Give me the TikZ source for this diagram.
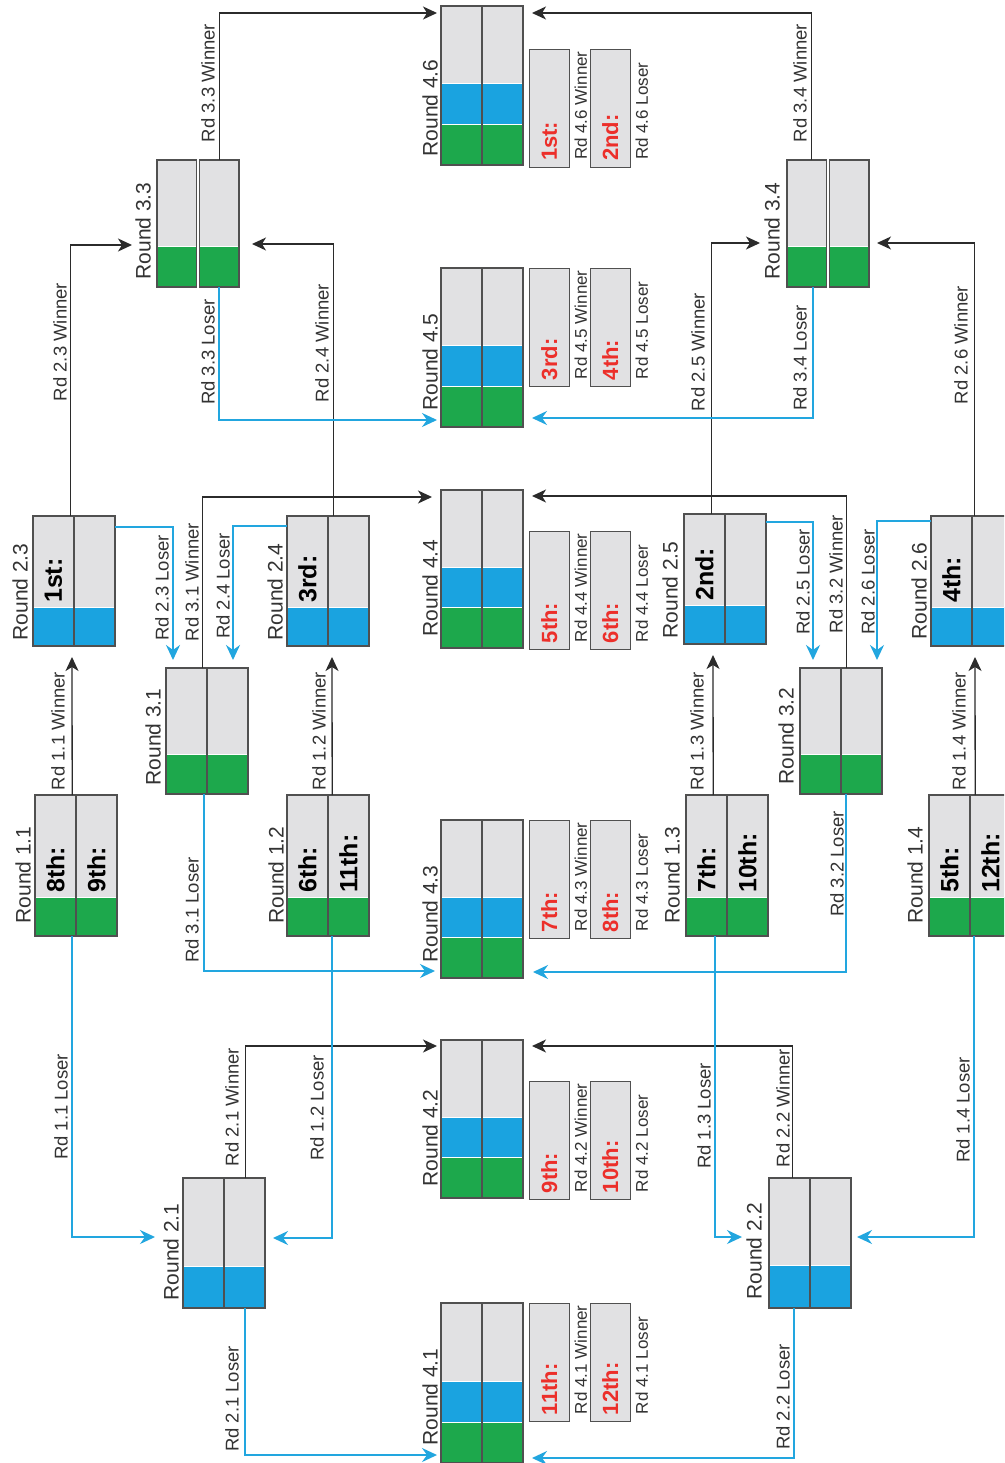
\documentclass[tikz,border=0pt]{standalone}
\usepackage{fontspec}
\setmainfont{Liberation Sans}
\usetikzlibrary{arrows.meta}
\definecolor{cgrey}{HTML}{E1E1E3}
\definecolor{cgreen}{HTML}{1DA84C}
\definecolor{cblue}{HTML}{1AA3E0}
\definecolor{cred}{HTML}{EC2F2A}
\definecolor{cline}{HTML}{2B2B2B}
\definecolor{cbline}{HTML}{22A6DF}
\definecolor{cedge}{HTML}{505050}
\definecolor{ctext}{HTML}{333333}
\tikzset{
  boxnode/.style={rectangle, inner sep=0pt, minimum width=82pt, draw=none},
  boxedge/.style={draw=cedge, line width=1.2pt},
  bandsep/.style={draw=white, line width=1pt},
  divider/.style={draw=cedge, line width=2.6pt},
  resnode/.style={rectangle, inner sep=0pt, minimum width=39.5pt, minimum height=118pt, fill=cgrey, draw=cedge, line width=1.2pt},
  roundlbl/.style={rotate=90, inner sep=0pt, text=ctext, font=\fontsize{21}{24}\selectfont},
  cnlbl/.style={rotate=90, inner sep=0pt, text=ctext, font=\fontsize{18.5}{20}\selectfont},
  place/.style={rotate=90, anchor=west, inner sep=0pt, text=black, font=\fontsize{25}{28}\selectfont\bfseries},
  redplace/.style={rotate=90, anchor=west, inner sep=0pt, text=cred, font=\fontsize{22}{24}\selectfont\bfseries},
  reslbl/.style={rotate=90, anchor=west, inner sep=0pt, text=ctext, font=\fontsize{17}{19}\selectfont},
  win/.style={draw=cline, line width=1.3pt, -{Stealth[length=14pt,width=13pt,inset=4pt]}},
  lose/.style={draw=cbline, line width=1.7pt, -{Stealth[length=15pt,width=14pt,inset=5pt]}},
}
\newcommand\drawcol[6]{%
  \fill[cgrey] (#1,#3) rectangle (#2,#3+#4);
  \fill[cblue] (#1,#3+#4-#5-#6) rectangle (#2,#3+#4-#5);
  \fill[cgreen] (#1,#3+#4-#5) rectangle (#2,#3+#4);
  \draw[bandsep] (#1,#3+#4-#5-#6) -- (#2,#3+#4-#5-#6);
  \draw[bandsep] (#1,#3+#4-#5) -- (#2,#3+#4-#5);
  \draw[boxedge] (#1,#3) rectangle (#2,#3+#4);
}
\newcommand\matchbox[7]{%
  \node[boxnode, minimum height=#4pt, anchor=north west] (#1) at (#2,#3) {};
  \drawcol{#2}{#2+41-#7/2}{#3}{#4}{#5}{#6}%
  \drawcol{#2+41+#7/2}{#2+82}{#3}{#4}{#5}{#6}%
  \ifnum#7=0 \draw[divider] (#2+41,#3) -- (#2+41,#3+#4);\fi
}
\newcommand\resbox[5]{%
  \node[resnode, anchor=north west] (#1) at (#2,#3) {};
  \node[redplace] (#1t) at ([yshift=7pt]#1.south) {#4};
  \node[reslbl] (#1l) at ([xshift=11pt,yshift=8pt]#1.south east) {#5};
}
\begin{document}
\begin{tikzpicture}[x=1pt,y=-1pt]
\clip (0,0) rectangle (1004,1463);
\fill[white] (0,0) rectangle (1004,1463);

% ---------- match boxes ----------
\matchbox{r46}{441}{6}{159}{40}{41}{0}
\matchbox{r45}{441}{268}{159}{41}{41}{0}
\matchbox{r44}{441}{490}{158}{41}{40}{0}
\matchbox{r43}{441}{820}{158}{41}{40}{0}
\matchbox{r42}{441}{1040}{158}{41}{40}{0}
\matchbox{r41}{441}{1303}{160}{41}{41}{0}

\matchbox{r11}{35}{795}{141}{39}{0}{0}
\matchbox{r12}{287}{795}{141}{39}{0}{0}
\matchbox{r13}{686}{795}{141}{39}{0}{0}
\matchbox{r14}{929}{795}{141}{39}{0}{0}

\matchbox{r23}{33}{516}{130}{0}{39}{0}
\matchbox{r24}{287}{516}{130}{0}{39}{0}
\matchbox{r25}{684}{514}{130}{0}{39}{0}
\matchbox{r26}{931}{516}{130}{0}{39}{0}

\matchbox{r31}{166}{668}{126}{40}{0}{0}
\matchbox{r32}{800}{668}{126}{40}{0}{0}
\matchbox{r33}{157}{160}{127}{40}{0}{3}
\matchbox{r34}{787}{160}{127}{40}{0}{3}

\matchbox{r21}{183}{1178}{130}{0}{42}{0}
\matchbox{r22}{769}{1178}{130}{0}{43}{0}

% ---------- result boxes ----------
\resbox{w46}{529}{49}{1st:}{Rd 4.6 Winner}
\resbox{x46}{590}{49}{2nd:}{Rd 4.6 Loser}
\resbox{w45}{529}{268}{3rd:}{Rd 4.5 Winner}
\resbox{x45}{590}{268}{4th:}{Rd 4.5 Loser}
\resbox{w44}{529}{531}{5th:}{Rd 4.4 Winner}
\resbox{x44}{590}{531}{6th:}{Rd 4.4 Loser}
\resbox{w43}{529}{820}{7th:}{Rd 4.3 Winner}
\resbox{x43}{590}{820}{8th:}{Rd 4.3 Loser}
\resbox{w42}{529}{1081}{9th:}{Rd 4.2 Winner}
\resbox{x42}{590}{1081}{10th:}{Rd 4.2 Loser}
\resbox{w41}{529}{1303}{11th:}{Rd 4.1 Winner}
\resbox{x41}{590}{1303}{12th:}{Rd 4.1 Loser}

% ---------- placements ----------
\node[place] (p11a) at (55.5,893) {8th:};
\node[place] (p11b) at (96.5,893) {9th:};
\node[place] (p12a) at (307.5,893) {6th:};
\node[place] (p12b) at (348.5,893) {11th:};
\node[place] (p13a) at (706.5,893) {7th:};
\node[place] (p13b) at (747.5,893) {10th:};
\node[place] (p14a) at (949.5,893) {5th:};
\node[place] (p14b) at (990.5,893) {12th:};
\node[place] (p23a) at (53.5,603) {1st:};
\node[place] (p24a) at (307.5,603) {3rd:};
\node[place] (p25a) at (704.5,601) {2nd:};
\node[place] (p26a) at (951.5,603) {4th:};

% ---------- round labels ----------
\node[roundlbl] (n11) at (23,875) {Round 1.1};
\node[roundlbl] (n12) at (276,875) {Round 1.2};
\node[roundlbl] (n13) at (672,875) {Round 1.3};
\node[roundlbl] (n14) at (915,875) {Round 1.4};
\node[roundlbl] (n23) at (20,592) {Round 2.3};
\node[roundlbl] (n24) at (275,592) {Round 2.4};
\node[roundlbl] (n25) at (670,590) {Round 2.5};
\node[roundlbl] (n26) at (919,591) {Round 2.6};
\node[roundlbl] (n31) at (153,737) {Round 3.1};
\node[roundlbl] (n32) at (786,736) {Round 3.2};
\node[roundlbl] (n33) at (143,231) {Round 3.3};
\node[roundlbl] (n34) at (772,231) {Round 3.4};
\node[roundlbl] (n21) at (171,1252) {Round 2.1};
\node[roundlbl] (n22) at (754,1251) {Round 2.2};
\node[roundlbl] (n46) at (430,108) {Round 4.6};
\node[roundlbl] (n45) at (430,362) {Round 4.5};
\node[roundlbl] (n44) at (430,588) {Round 4.4};
\node[roundlbl] (n43) at (430,914) {Round 4.3};
\node[roundlbl] (n42) at (430,1138) {Round 4.2};
\node[roundlbl] (n41) at (430,1397) {Round 4.1};

% ---------- arrow tips ----------
\coordinate (t11w) at (72,657);
\coordinate (t12w) at (332,657);
\coordinate (t13w) at (713,655);
\coordinate (t14w) at (975,657);
\coordinate (t23w) at (132,245);
\coordinate (t24w) at (252,244);
\coordinate (t25w) at (760,243);
\coordinate (t26w) at (877,243);
\coordinate (t31w) at (432,497);
\coordinate (t32w) at (532,496);
\coordinate (t33w) at (437,13);
\coordinate (t34w) at (532,13);
\coordinate (t21w) at (437,1046);
\coordinate (t22w) at (532,1046);
\coordinate (t11l) at (155,1237);
\coordinate (t12l) at (273,1238);
\coordinate (t13l) at (742,1237);
\coordinate (t14l) at (857,1237);
\coordinate (t23l) at (173,660);
\coordinate (t24l) at (233,660);
\coordinate (t25l) at (813,660);
\coordinate (t26l) at (877,660);
\coordinate (t31l) at (435,971);
\coordinate (t32l) at (533,972);
\coordinate (t33l) at (437,420);
\coordinate (t34l) at (532,418);
\coordinate (t21l) at (437,1455);
\coordinate (t22l) at (532,1458);

% ---------- winner connectors ----------
\draw[win] ([xshift=-4pt]r11.north) -- (t11w);
\draw[win] ([xshift=4pt]r12.north) -- (t12w);
\draw[win] ([xshift=-14pt]r13.north) -- (t13w);
\draw[win] ([xshift=5pt]r14.north) -- (t14w);
\draw[win] ([xshift=-4pt]r23.north) |- (t23w);
\draw[win] ([xshift=5pt]r24.north) |- (t24w);
\draw[win] ([xshift=-14pt]r25.north) |- (t25w);
\draw[win] ([xshift=2pt]r26.north) |- (t26w);
\draw[win] ([xshift=-5pt]r31.north) |- (t31w);
\draw[win] ([xshift=5pt]r32.north) |- (t32w);
\draw[win] ([xshift=21pt]r33.north) |- (t33w);
\draw[win] ([xshift=-17pt]r34.north) |- (t34w);
\draw[win] ([xshift=21pt]r21.north) |- (t21w);
\draw[win] ([xshift=-18pt]r22.north) |- (t22w);

% ---------- loser connectors ----------
\draw[lose] ([xshift=-4pt]r11.south) |- (t11l);
\draw[lose] ([xshift=4pt]r12.south) |- (t12l);
\draw[lose] ([xshift=-12pt]r13.south) |- (t13l);
\draw[lose] ([xshift=4pt]r14.south) |- (t14l);
\draw[lose] ([yshift=-11pt]r23.north east) -| (t23l);
\draw[lose] ([yshift=-10pt]r24.north west) -| (t24l);
\draw[lose] ([yshift=-8pt]r25.north east) -| (t25l);
\draw[lose] ([yshift=-5pt]r26.north west) -| (t26l);
\draw[lose] ([xshift=-3pt]r31.south) |- (t31l);
\draw[lose] ([xshift=5pt]r32.south) |- (t32l);
\draw[lose] ([xshift=21pt]r33.south) |- (t33l);
\draw[lose] ([xshift=-15pt]r34.south) |- (t34l);
\draw[lose] ([xshift=21pt]r21.south) |- (t21l);
\draw[lose] ([xshift=-16pt]r22.south) |- (t22l);

% ---------- connector labels ----------
\node[cnlbl] (l11w) at (58,731) {Rd 1.1 Winner};
\node[cnlbl] (l12w) at (319,731) {Rd 1.2 Winner};
\node[cnlbl] (l13w) at (697,731) {Rd 1.3 Winner};
\node[cnlbl] (l14w) at (959,731) {Rd 1.4 Winner};
\node[cnlbl] (l23l) at (162,588) {Rd 2.3 Loser};
\node[cnlbl] (l31w) at (192,582) {Rd 3.1 Winner};
\node[cnlbl] (l24l) at (223,586) {Rd 2.4 Loser};
\node[cnlbl] (l25l) at (803,582) {Rd 2.5 Loser};
\node[cnlbl] (l32w) at (836,574) {Rd 3.2 Winner};
\node[cnlbl] (l26l) at (868,582) {Rd 2.6 Loser};
\node[cnlbl] (l11l) at (61,1107) {Rd 1.1 Loser};
\node[cnlbl] (l21w) at (232,1107) {Rd 2.1 Winner};
\node[cnlbl] (l12l) at (317,1108) {Rd 1.2 Loser};
\node[cnlbl] (l21l) at (232,1399) {Rd 2.1 Loser};
\node[cnlbl] (l31l) at (192,910) {Rd 3.1 Loser};
\node[cnlbl] (l23w) at (60,342) {Rd 2.3 Winner};
\node[cnlbl] (l33w) at (208,83) {Rd 3.3 Winner};
\node[cnlbl] (l33l) at (208,352) {Rd 3.3 Loser};
\node[cnlbl] (l24w) at (322,343) {Rd 2.4 Winner};
\node[cnlbl] (l34w) at (800,83) {Rd 3.4 Winner};
\node[cnlbl] (l34l) at (800,358) {Rd 3.4 Loser};
\node[cnlbl] (l25w) at (698,352) {Rd 2.5 Winner};
\node[cnlbl] (l26w) at (961,345) {Rd 2.6 Winner};
\node[cnlbl] (l32l) at (837,864) {Rd 3.2 Loser};
\node[cnlbl] (l13l) at (704,1116) {Rd 1.3 Loser};
\node[cnlbl] (l22w) at (783,1108) {Rd 2.2 Winner};
\node[cnlbl] (l14l) at (963,1110) {Rd 1.4 Loser};
\node[cnlbl] (l22l) at (783,1397) {Rd 2.2 Loser};
\end{tikzpicture}
\end{document}
